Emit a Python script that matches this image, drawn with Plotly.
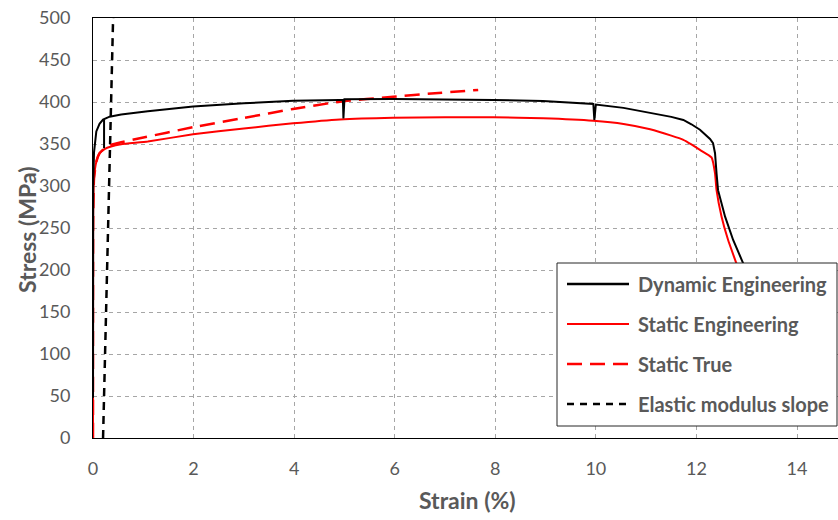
import plotly.graph_objects as go

# ---------------- data ----------------
dyn_strain = [0, 0.003, 0.02, 0.066, 0.13, 0.2, 0.33, 0.56, 1.09, 1.99, 3.0, 3.98, 4.9, 4.97, 4.98,
              5.0, 5.97, 7.0, 7.96, 8.95, 9.5, 9.95, 9.97, 10.0, 10.55, 11.08, 11.3, 11.5, 11.74, 11.9,
              12.07, 12.2, 12.27, 12.33, 12.37, 12.40, 12.43, 12.57, 12.73, 12.93, 13.1,
              None, 0.22, 0.22]
dyn_stress = [48, 300, 340, 365, 374, 379, 382.5, 385, 389, 394.5, 398.5, 401.5, 402.4, 402.4, 380.5,
              403.3, 403.6, 403.3, 402.4, 401.2, 399.6, 397.6, 378.6, 397, 393, 387.5, 385, 382.3, 378.6, 373.5,
              367, 360.5, 356, 351, 339, 315, 295, 263.5, 235.7, 208, 185,
              None, 345, 379]

se_strain = [0, 0.003, 0.02, 0.066, 0.13, 0.23, 0.36, 0.56, 1.09, 1.99, 3.0, 3.98, 4.91, 5.97, 7.0,
             7.96, 8.95, 9.95, 10.55, 11.08, 11.5, 11.74, 11.9, 12.07, 12.30, 12.37, 12.40, 12.50, 12.63,
             12.79, 12.95]
se_stress = [0, 260, 309, 329, 339, 344, 347, 349.6, 353, 361.5, 368.5, 374.6, 379.2, 381.3, 381.8,
             381.8, 380.6, 377.6, 373.8, 367.5, 360, 355, 349.5, 343, 334, 315, 295, 263.5, 235.7,
             208.7, 180]

st_strain = [0, 0.003, 0.02, 0.066, 0.13, 0.23, 0.36, 0.56, 0.93, 1.99, 3.0, 3.98, 4.91, 5.97, 6.8, 7.66]
st_stress = [0, 260, 309, 329, 339, 345, 349, 352, 356.8, 370, 381, 391.7, 400.4, 406.3, 410.5, 414.3]

el_strain = [0.2, 0.40]
el_stress = [0, 500]

series_names = ["Dynamic Engineering", "Static Engineering", "Static True", "Elastic modulus slope"]
x_ticks = [0, 2, 4, 6, 8, 10, 12, 14]
y_ticks = [0, 50, 100, 150, 200, 250, 300, 350, 400, 450, 500]

# ---------------- figure ----------------
W, H = 838, 520
ML, MR, MT, MB = 93, 0, 18, 82
GRAY = "#595959"
FONT = "Lato"

fig = go.Figure()
fig.add_trace(go.Scatter(x=el_strain, y=el_stress, mode="lines", name=series_names[3],
                         line=dict(color="black", width=2.5, dash="8px,6px")))
fig.add_trace(go.Scatter(x=st_strain, y=st_stress, mode="lines", name=series_names[2],
                         line=dict(color="#ff0000", width=2.5, dash="15px,8px", shape="spline", smoothing=0.4)))
fig.add_trace(go.Scatter(x=se_strain, y=se_stress, mode="lines", name=series_names[1],
                         line=dict(color="#ff0000", width=2, shape="spline", smoothing=0.4)))
fig.add_trace(go.Scatter(x=dyn_strain, y=dyn_stress, mode="lines", name=series_names[0],
                         line=dict(color="black", width=2), connectgaps=False))

x_max = (W - ML - MR) / ((797 - 93) / 14.0)

fig.update_layout(
    width=W, height=H,
    margin=dict(l=ML, r=MR, t=MT, b=MB, pad=0, autoexpand=False),
    paper_bgcolor="white", plot_bgcolor="white",
    showlegend=False,
    font=dict(family=FONT, color=GRAY),
    xaxis=dict(range=[0, x_max], tickvals=x_ticks, ticktext=[str(v) for v in x_ticks],
               showgrid=True, gridcolor="#a6a6a6", gridwidth=1, griddash="4px,4px",
               showline=True, linecolor="black", linewidth=1, mirror=True,
               zeroline=False, ticks="", ticklabelstandoff=14, automargin=False,
               tickfont=dict(family=FONT, size=18, color=GRAY),
               layer="below traces"),
    yaxis=dict(range=[0, 500], tickvals=y_ticks, ticktext=[str(v) for v in y_ticks],
               showgrid=True, gridcolor="#a6a6a6", gridwidth=1, griddash="4px,4px",
               showline=True, linecolor="black", linewidth=1, mirror=False,
               zeroline=False, ticks="", ticklabelstandoff=18, automargin=False,
               tickfont=dict(family=FONT, size=18, color=GRAY),
               layer="below traces"),
)

# ---------------- pixel -> paper helpers ----------------
def px(xp):
    return (xp - ML) / (W - ML - MR)

def py(yp):
    return (H - MB - yp) / (H - MT - MB)

annotations = [
    dict(xref="paper", yref="paper", x=px(467), y=py(500), text="<b>Strain (%)</b>", showarrow=False,
         xanchor="center", yanchor="middle", font=dict(family=FONT, size=23, color=GRAY)),
    dict(xref="paper", yref="paper", x=px(27), y=py(230), text="<b>Stress (MPa)</b>", showarrow=False,
         xanchor="center", yanchor="middle", textangle=-90, font=dict(family=FONT, size=23, color=GRAY)),
]

# ---------------- custom legend ----------------
shapes = [dict(type="rect", xref="paper", yref="paper", x0=px(557), x1=px(837), y0=py(426), y1=py(263),
               fillcolor="white", line=dict(color="#262626", width=1), layer="above")]
styles = [dict(color="black", width=2.5, dash="solid"),
          dict(color="#ff0000", width=2, dash="solid"),
          dict(color="#ff0000", width=2.5, dash="15px,8px"),
          dict(color="black", width=2.5, dash="7px,6px")]
entry_y = [284, 324, 364, 404]
for name, st, yy in zip(series_names, styles, entry_y):
    shapes.append(dict(type="line", xref="paper", yref="paper", x0=px(567), x1=px(629),
                       y0=py(yy), y1=py(yy), line=st, layer="above"))
    annotations.append(dict(xref="paper", yref="paper", x=px(636), y=py(yy), text="<b>" + name + "</b>",
                            showarrow=False, xanchor="left", yanchor="middle",
                            font=dict(family=FONT, size=20, color=GRAY)))
fig.update_layout(shapes=shapes, annotations=annotations)

fig.write_html("out.html", config={"displayModeBar": False},
               post_script="document.body.style.margin='0';document.body.style.padding='0';"
                           "document.body.style.overflow='hidden';")
